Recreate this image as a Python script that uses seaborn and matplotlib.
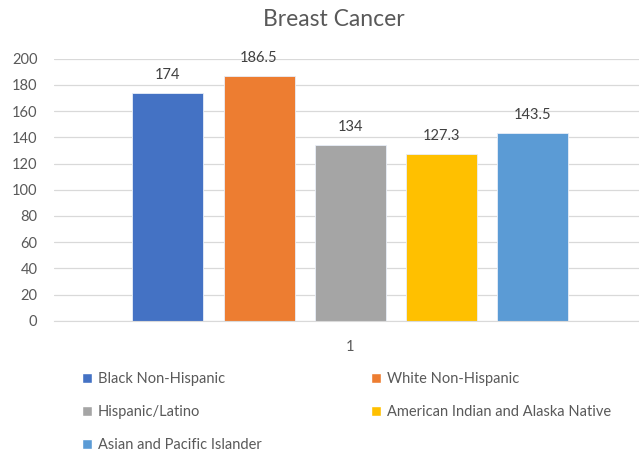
import matplotlib
matplotlib.use('Agg')
import matplotlib.pyplot as plt
from matplotlib.patches import Patch
import seaborn as sns
import pandas as pd

# chart data
groups = ['Black Non-Hispanic', 'White Non-Hispanic', 'Hispanic/Latino',
          'American Indian and Alaska Native', 'Asian and Pacific Islander']
values = [174, 186.5, 134, 127.3, 143.5]
category = ['1'] * len(groups)
colors = ['#4472C4', '#ED7D31', '#A5A5A5', '#FFC000', '#5B9BD5']

df = pd.DataFrame({'Category': category, 'Group': groups, 'Value': values})

sns.set_style('white')
plt.rcParams['font.family'] = ['Lato', 'DejaVu Sans']

fig = plt.figure(figsize=(6.39, 4.53), dpi=100)
ax = fig.add_axes([0.0845, 0.292, 0.9155, 0.5784])

sns.barplot(data=df, x='Category', y='Value', hue='Group', hue_order=groups,
            palette=colors, saturation=1, width=0.8, gap=0.22, legend=False,
            ax=ax, edgecolor='#e8eef8', linewidth=0.6)

for cont in ax.containers:
    ax.bar_label(cont, fmt='%g', padding=8, fontsize=10.5, color='#404040')

ax.set_ylim(0, 200)
ax.set_yticks(range(0, 201, 20))
ax.set_xlim(-0.52, 0.507)
ax.yaxis.grid(True, color='#d9d9d9', linewidth=0.9)
ax.set_axisbelow(True)
for side in ['top', 'right', 'left']:
    ax.spines[side].set_visible(False)
ax.spines['bottom'].set_color('#d9d9d9')
ax.tick_params(axis='both', length=0, labelsize=10.5, labelcolor='#595959')
ax.tick_params(axis='y', pad=12)
ax.tick_params(axis='x', pad=14)
ax.set_xlabel('')
ax.set_ylabel('')

fig.suptitle('Breast Cancer', x=0.523, y=0.98, fontsize=16.5, color='#595959')

# legend filled row by row like the original
handles = [Patch(facecolor=c) for c in colors]
order = [0, 2, 4, 1, 3]
fig.legend([handles[i] for i in order], [groups[i] for i in order],
           ncol=2, loc='upper left', bbox_to_anchor=(0.128, 0.178),
           frameon=False, fontsize=10.5, labelcolor='#595959',
           handlelength=0.7, handleheight=0.7, handletextpad=0.4,
           columnspacing=7.5, labelspacing=1.3, borderaxespad=0, borderpad=0)

fig.savefig('out.png', dpi=100)
